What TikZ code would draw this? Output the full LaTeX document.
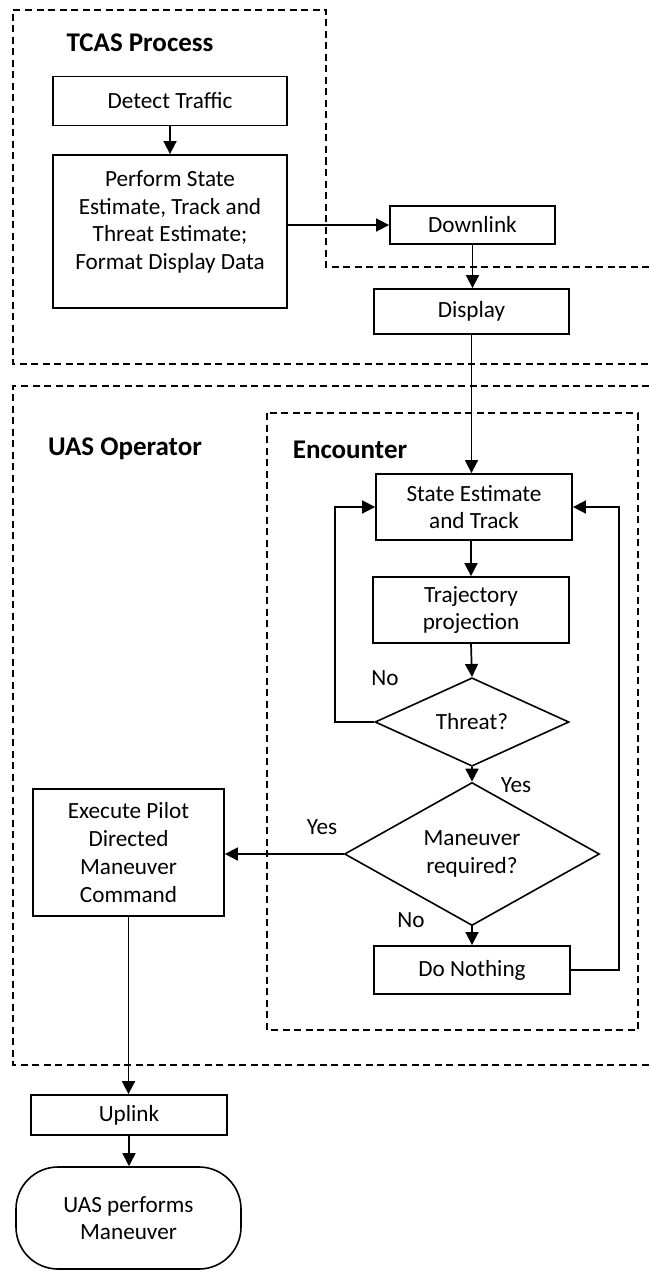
\documentclass[tikz,border=0pt]{standalone}
\usepackage{fontspec}
\setmainfont{Carlito}
\usetikzlibrary{shapes.geometric,arrows.meta}
\begin{document}
\begin{tikzpicture}[x=1pt,y=-1pt,
  txt/.style={align=center,font=\fontsize{23.2}{27.7}\selectfont},
  box/.style={txt,draw,line width=1.8pt,rectangle,inner sep=0pt},
  dia/.style={txt,draw,line width=1.6pt,diamond,inner sep=0pt},
  term/.style={txt,draw,line width=1.6pt,rectangle,rounded corners=42pt,inner sep=0pt},
  arr/.style={line width=1.7pt,-{Triangle[length=13pt,width=13pt]}},
  grp/.style={line width=1.4pt,dash pattern=on 7pt off 4.5pt},
  head/.style={font=\fontsize{27}{31}\selectfont\bfseries},
  lbl/.style={font=\fontsize{23.2}{27.7}\selectfont}]
\useasboundingbox (0,0) rectangle (649,1271);

% group outlines
\draw[grp] (649,267) -- (326,267) -- (326,10) -- (13,10) -- (13,364) -- (649,364);
\draw[grp] (649,386) -- (13,386) -- (13,1065) -- (649,1065);
\draw[grp] (267,413) rectangle (638,1030);

\node[head] (tcas) at (140,43) {TCAS Process};
\node[head] (uasop) at (125,449) {UAS Operator};
\node[head] (enc) at (350,450) {Encounter};

% nodes
\node[box,minimum width=234pt,minimum height=49pt] (detect) at (170,101) {Detect Traffic};
\node[box,minimum width=234pt,minimum height=153pt] (perform) at (170,231.5) {};
\node[txt] (performtxt) at (170,222) {Perform State\\Estimate, Track and\\Threat Estimate;\\Format Display Data};
\node[box,minimum width=165pt,minimum height=38pt] (downlink) at (472.5,225) {Downlink};
\node[box,minimum width=195pt,minimum height=45pt] (display) at (471.5,311.5) {Display};
\node[box,minimum width=196pt,minimum height=66pt] (state) at (474,507) {State Estimate\\and Track};
\node[box,minimum width=196pt,minimum height=66pt] (traj) at (471,610) {Trajectory\\projection};
\node[dia,minimum width=194pt,minimum height=81pt] (threat) at (472,722) {Threat?};
\node[dia,minimum width=255pt,minimum height=108pt] (man) at (472,854) {Maneuver\\required?};
\node[box,minimum width=191pt,minimum height=127pt] (exec) at (128.5,852.5) {Execute Pilot\\Directed\\Maneuver\\Command};
\node[box,minimum width=196pt,minimum height=48pt] (nothing) at (472,970) {Do Nothing};
\node[box,minimum width=196pt,minimum height=40pt] (uplink) at (129,1115) {Uplink};
\node[term,minimum width=225pt,minimum height=102pt] (uas) at (128.5,1218) {UAS performs\\Maneuver};

\coordinate (lloop) at (335,0);
\coordinate (rloop) at (619,0);

% connectors
\draw[arr] (detect.south) -- (perform.north);
\draw[arr] (perform.east |- downlink.west) -- (downlink.west);
\draw[arr] (downlink.south) -- (downlink.south |- display.north);
\draw[arr] (display.south) -- (display.south |- state.north);
\draw[arr] (traj.north |- state.south) -- (traj.north);
\draw[arr] (traj.south) -- (threat.north);
\draw[arr] (threat.south) -- (man.north);
\draw[arr] (threat.west) -- (threat.west -| lloop) |- (state.west);
\draw[arr] (man.west) -- (exec.east |- man.west);
\draw[arr] (man.south) -- (nothing.north);
\draw[arr] (nothing.east) -- (nothing.east -| rloop) |- (state.east);
\draw[arr] (exec.south) -- (exec.south |- uplink.north);
\draw[arr] (uplink.south) -- (uplink.south |- uas.north);

% labels
\node[lbl] (no1) at (385,678) {No};
\node[lbl] (yes1) at (516,785) {Yes};
\node[lbl] (yes2) at (322,827) {Yes};
\node[lbl] (no2) at (411,920) {No};
\end{tikzpicture}
\end{document}
